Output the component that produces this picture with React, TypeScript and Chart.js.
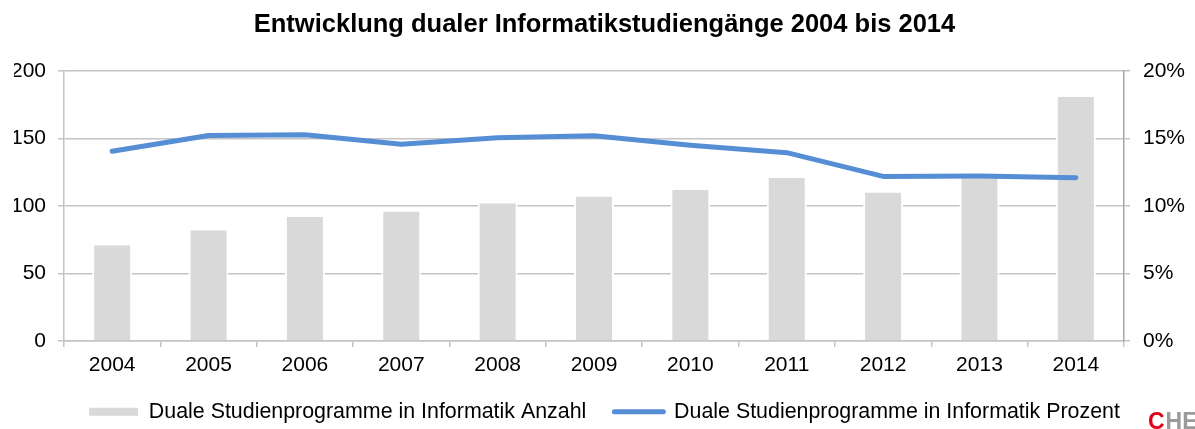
import React, { useEffect, useRef } from "react";
import { Chart, registerables } from "chart.js";

Chart.register(...registerables);

const years = ["2004", "2005", "2006", "2007", "2008", "2009", "2010", "2011", "2012", "2013", "2014"];
const counts = [71, 82, 92, 96, 102, 107, 112, 121, 110, 122, 181];
const percents = [14.05, 15.22, 15.27, 14.57, 15.06, 15.2, 14.5, 13.95, 12.19, 12.22, 12.1];

const countLabel = "Duale Studienprogramme in Informatik Anzahl";
const percentLabel = "Duale Studienprogramme in Informatik Prozent";
const titleText = "Entwicklung dualer Informatikstudiengänge 2004 bis 2014";

const FONT = "'Liberation Sans', Arial, sans-serif";
const GRID = "#c4c4c4";
const BAR = "#d9d9d9";
const LINE = "#558ed5";

const cheLogo = {
  id: "cheLogo",
  afterDraw(chart: any) {
    const ctx = chart.ctx;
    ctx.save();
    ctx.font = `bold 23px ${FONT}`;
    ctx.textBaseline = "alphabetic";
    ctx.textAlign = "left";
    ctx.fillStyle = "#e2001a";
    ctx.fillText("C", 1148, 429);
    const w = ctx.measureText("C").width;
    ctx.fillStyle = "#9a9a9a";
    ctx.fillText("HE", 1148 + w + 1, 429);
    ctx.restore();
  },
};

export default function App() {
  const ref = useRef<HTMLCanvasElement>(null);
  useEffect(() => {
    if (!ref.current) return;
    const chart = new Chart(ref.current, {
      type: "bar",
      data: {
        labels: years,
        datasets: [
          {
            type: "bar",
            label: countLabel,
            data: counts,
            backgroundColor: BAR,
            borderColor: "#ffffff",
            borderWidth: { left: 2, right: 2, top: 0, bottom: 0 } as any,
            borderSkipped: false,
            barPercentage: 0.415,
            categoryPercentage: 1,
            yAxisID: "y",
            order: 1,
          } as any,
          {
            type: "line",
            label: percentLabel,
            data: percents,
            borderColor: LINE,
            backgroundColor: LINE,
            borderWidth: 5,
            borderCapStyle: "round",
            borderJoinStyle: "round",
            pointRadius: 0,
            tension: 0,
            yAxisID: "y1",
            order: 0,
          } as any,
        ],
      },
      options: {
        responsive: false,
        animation: false,
        layout: { padding: { left: 14, right: 0, top: 0, bottom: 0 } },
        plugins: {
          tooltip: { enabled: false },
          title: {
            display: true,
            text: titleText,
            color: "#000000",
            font: { family: FONT, size: 25.5, weight: "bold" },
            padding: { top: 10, bottom: 30.4 },
          },
          legend: {
            position: "bottom",
            maxHeight: 56,
            labels: {
              usePointStyle: true,
              pointStyleWidth: 49,
              padding: 28,
              color: "#000000",
              font: { family: FONT, size: 21.4 },
              generateLabels: () => [
                {
                  text: countLabel,
                  pointStyle: "line",
                  strokeStyle: BAR,
                  fillStyle: BAR,
                  lineWidth: 8,
                  lineCap: "butt",
                  datasetIndex: 0,
                  fontColor: "#000000",
                } as any,
                {
                  text: percentLabel,
                  pointStyle: "line",
                  strokeStyle: LINE,
                  fillStyle: LINE,
                  lineWidth: 5,
                  lineCap: "round",
                  datasetIndex: 1,
                  fontColor: "#000000",
                } as any,
              ],
            },
          },
        },
        scales: {
          x: {
            offset: true,
            grid: {
              offset: true,
              drawOnChartArea: false,
              drawTicks: true,
              tickLength: 6,
              color: GRID,
              lineWidth: 1.5,
            },
            border: { display: true, color: GRID, width: 1.5 },
            ticks: { color: "#000000", font: { family: FONT, size: 21 }, padding: 6, maxRotation: 0 },
            afterFit: (s: any) => {
              s.height = 32;
            },
          },
          y: {
            position: "left",
            min: 0,
            max: 200,
            ticks: { stepSize: 50, color: "#000000", font: { family: FONT, size: 21 }, padding: 12 },
            grid: { color: GRID, lineWidth: 1.5, tickLength: 6, drawTicks: true },
            border: { display: true, color: GRID, width: 1.5 },
            afterFit: (s: any) => {
              s.width = 50;
            },
          },
          y1: {
            position: "right",
            min: 0,
            max: 20,
            ticks: {
              stepSize: 5,
              color: "#000000",
              font: { family: FONT, size: 21 },
              padding: 13,
              callback: (v: any) => `${v}%`,
            },
            grid: { drawOnChartArea: false, color: GRID, lineWidth: 1.5, tickLength: 6, drawTicks: true },
            border: { display: true, color: "#a6a6a6", width: 1.5 },
            afterFit: (s: any) => {
              s.width = 71;
            },
          },
        },
      },
      plugins: [cheLogo],
    } as any);
    return () => chart.destroy();
  }, []);

  return (
    <div style={{ position: "absolute", left: 0, top: 0, width: 1195, height: 429, background: "#ffffff" }}>
      <canvas ref={ref} width={1195} height={429} style={{ display: "block" }} />
    </div>
  );
}
